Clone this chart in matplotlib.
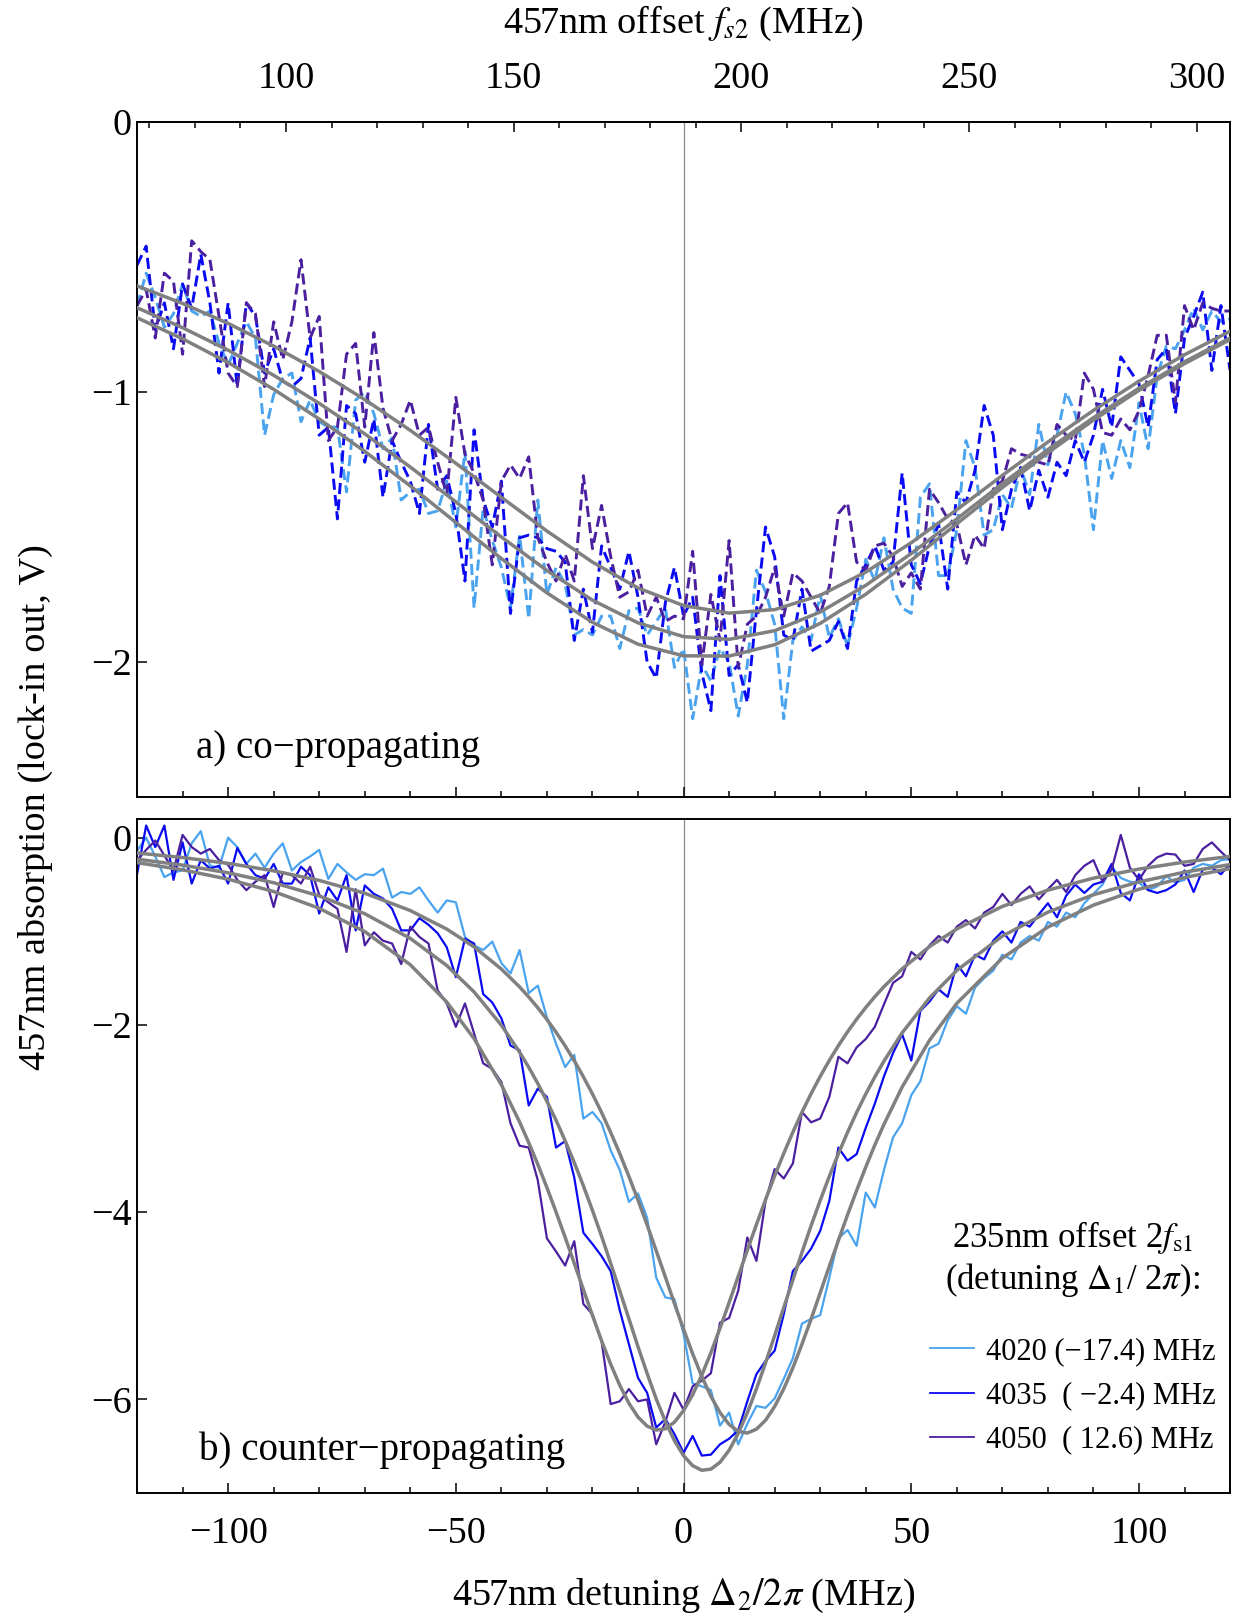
import numpy as np
import matplotlib
matplotlib.use("Agg")
import matplotlib.pyplot as plt
from matplotlib.lines import Line2D
from matplotlib.ticker import MultipleLocator

plt.rcParams['font.family'] = ['Liberation Serif', 'DejaVu Serif']
plt.rcParams['mathtext.fontset'] = 'stix'

# 457nm detuning grid of the scans (MHz)
detuning = np.arange(-120, 121, 2)
offset_fs2 = 187.3  # f_s2 = detuning + offset

# ---- a) co-propagating (lock-in out, V)
top_4020 = [-0.68, -0.56, -0.65, -0.76, -0.71, -0.60, -0.70, -0.72, -0.70, -0.82,
            -0.90, -0.82, -0.74, -0.80, -1.16, -1.01, -0.95, -0.93, -1.11, -1.03,
            -1.11, -1.13, -1.13, -1.37, -1.03, -1.00, -1.08, -1.21, -1.17, -1.40,
            -1.37, -1.36, -1.45, -1.44, -1.33, -1.50, -1.22, -1.80, -1.43, -1.55,
            -1.65, -1.80, -1.53, -1.84, -1.40, -1.75, -1.65, -1.71, -1.90, -1.88,
            -1.90, -1.83, -1.83, -1.95, -1.81, -1.80, -1.90, -1.85, -1.80, -2.02,
            -1.95, -2.21, -2.01, -2.07, -1.95, -2.00, -2.20, -2.01, -1.66, -1.74,
            -1.86, -2.21, -1.92, -1.87, -1.92, -1.75, -1.91, -1.84, -1.94, -1.80,
            -1.62, -1.70, -1.54, -1.73, -1.80, -1.82, -1.39, -1.34, -1.68, -1.68,
            -1.51, -1.18, -1.28, -1.53, -1.51, -1.38, -1.43, -1.28, -1.38, -1.12,
            -1.27, -1.16, -1.00, -1.08, -1.23, -1.51, -1.18, -1.32, -1.18, -1.28,
            -1.04, -1.21, -0.94, -0.83, -0.84, -0.77, -0.69, -0.77, -0.70, -0.74,
            -0.73]
top_4035 = [-0.53, -0.46, -0.77, -0.67, -0.84, -0.60, -0.69, -0.49, -0.67, -0.93,
            -0.67, -0.98, -0.67, -0.72, -0.93, -0.84, -0.96, -0.98, -0.95, -0.80,
            -1.16, -1.13, -1.47, -1.05, -1.08, -1.26, -1.10, -1.39, -1.18, -1.26,
            -1.33, -1.45, -1.12, -1.36, -1.31, -1.45, -1.70, -1.14, -1.40, -1.50,
            -1.33, -1.82, -1.54, -1.53, -1.54, -1.58, -1.59, -1.63, -1.92, -1.73,
            -1.89, -1.57, -1.65, -1.73, -1.59, -1.76, -2.00, -2.06, -1.78, -1.65,
            -1.83, -1.76, -2.04, -2.18, -1.68, -2.05, -2.01, -2.15, -1.81, -1.50,
            -1.61, -1.90, -1.92, -1.73, -1.96, -1.94, -1.92, -1.85, -1.95, -1.70,
            -1.64, -1.57, -1.66, -1.63, -1.30, -1.64, -1.71, -1.57, -1.49, -1.73,
            -1.37, -1.41, -1.29, -1.05, -1.16, -1.51, -1.36, -1.28, -1.44, -1.29,
            -1.39, -1.26, -1.31, -1.18, -1.26, -1.16, -0.99, -1.13, -0.87, -0.92,
            -0.97, -1.13, -0.88, -0.84, -1.08, -0.80, -0.72, -0.63, -0.92, -0.68,
            -0.92]
top_4050 = [-0.68, -0.62, -0.80, -0.56, -0.59, -0.86, -0.44, -0.48, -0.51, -0.72,
            -0.93, -0.98, -0.67, -0.71, -0.98, -0.74, -0.88, -0.74, -0.51, -0.80,
            -0.72, -1.18, -1.13, -0.86, -0.82, -1.13, -0.78, -1.06, -1.18, -1.12,
            -1.03, -1.16, -1.13, -1.26, -1.38, -1.02, -1.23, -1.30, -1.40,
            -1.64, -1.33, -1.27, -1.32, -1.24, -1.54, -1.63, -1.70, -1.60, -1.70,
            -1.31, -1.58, -1.42, -1.61, -1.76, -1.74, -1.66, -1.83, -1.76, -1.85,
            -1.83, -1.84, -1.59, -2.01, -1.75, -1.92, -1.55, -2.02, -1.86, -1.83,
            -1.76, -1.65, -1.83, -1.67, -1.70, -1.76, -1.82, -1.72, -1.45, -1.41,
            -1.63, -1.66, -1.57, -1.56, -1.61, -1.72, -1.67, -1.73, -1.36, -1.41,
            -1.47, -1.49, -1.64, -1.53, -1.58, -1.36, -1.33, -1.21, -1.23, -1.24,
            -1.26, -1.27, -1.12, -1.16, -1.18, -0.93, -0.99, -1.15, -1.16, -1.10,
            -1.14, -1.07, -0.94, -0.79, -0.79, -1.04, -0.68, -0.77, -0.67, -0.69,
            -0.70, -0.70]

fit_top_x = [-120, -110, -100, -90, -80, -70, -60, -50, -40, -30, -20, -10, 0,
             10, 20, 30, 40, 50, 60, 70, 80, 90, 100, 110, 120]
fit_top_4020 = [-0.725, -0.803, -0.891, -0.990, -1.100, -1.220, -1.348, -1.483, -1.617,
                -1.744, -1.853, -1.934, -1.977, -1.978, -1.936, -1.857, -1.749, -1.623,
                -1.488, -1.354, -1.225, -1.104, -0.994, -0.895, -0.806]
fit_top_4035 = [-0.688, -0.762, -0.845, -0.938, -1.042, -1.155, -1.278, -1.407, -1.537,
                -1.661, -1.771, -1.855, -1.906, -1.916, -1.884, -1.815, -1.716, -1.598,
                -1.470, -1.339, -1.213, -1.095, -0.986, -0.888, -0.800]
fit_top_4050 = [-0.607, -0.672, -0.746, -0.830, -0.924, -1.028, -1.142, -1.264, -1.390,
                -1.515, -1.630, -1.726, -1.791, -1.819, -1.806, -1.753, -1.667, -1.558,
                -1.436, -1.309, -1.185, -1.068, -0.960, -0.862, -0.775]

# ---- b) counter-propagating
bot_4020 = [-0.14, 0.00, -0.20, -0.42, -0.37, -0.35, -0.06, 0.07, -0.30, -0.32,
            0.00, -0.10, -0.28, -0.17, -0.32, -0.17, -0.06, -0.35, -0.26, -0.20,
            -0.13, -0.44, -0.28, -0.37, -0.45, -0.39, -0.40, -0.33, -0.64, -0.58,
            -0.60, -0.53,
            -0.67, -0.80, -0.67, -0.69, -1.06, -1.15, -1.20, -1.11, -1.34, -1.45,
            -1.20, -1.66, -1.58, -1.92,
            -2.20, -2.45, -2.32, -3.00, -2.93, -3.05, -3.34, -3.55, -3.89, -3.80,
            -4.06, -4.70, -4.91, -4.93, -5.30, -5.83, -5.86, -5.90, -6.28, -6.14,
            -6.48, -6.26, -6.07, -6.09, -5.99, -5.78, -5.56, -5.19, -5.14, -5.10,
            -4.70, -4.28, -4.19, -4.36, -3.79,
            -3.95, -3.55, -3.20, -3.05, -2.75, -2.60, -2.25, -2.20, -1.95, -1.80,
            -1.88, -1.60, -1.50, -1.42, -1.25, -1.30, -1.12, -1.05, -1.10, -0.90,
            -0.95, -0.80, -0.85, -0.70, -0.60, -0.50, -0.31, -0.43, -0.47, -0.48,
            -0.56, -0.52, -0.41, -0.48, -0.45, -0.32, -0.28, -0.30, -0.24, -0.23]
bot_4035 = [-0.39, 0.13, -0.10, 0.13, -0.45, -0.05, -0.49, -0.24, -0.33, -0.30,
            -0.49, -0.11, -0.28, -0.40, -0.44, -0.28, -0.49, -0.49, -0.31, -0.40,
            -0.81, -0.53, -0.67, -0.40, -0.99, -0.51, -0.60, -0.65, -0.76, -0.99,
            -0.99, -0.86, -0.93, -1.02, -1.17, -1.49, -1.08, -1.13, -1.67, -1.76,
            -1.93, -2.22, -2.27, -2.86, -2.68, -2.77, -3.31, -3.24, -3.63, -4.22,
            -4.34, -4.47, -4.63, -5.05, -5.41, -5.77, -5.93, -6.30, -6.21, -6.37,
            -6.57, -6.39, -6.60, -6.59, -6.48, -6.42, -6.33, -6.02, -5.73, -5.59,
            -5.48, -5.09, -4.63, -4.52, -4.39, -4.20, -3.88, -3.31, -3.45, -3.38,
            -3.10, -2.84,
            -2.55, -2.30, -2.10, -2.38, -1.85, -1.75, -1.62, -1.70, -1.35, -1.48,
            -1.25, -1.30, -1.10, -1.00, -1.12, -0.90, -0.95, -0.82, -0.70, -0.85,
            -0.62,
            -0.50, -0.59, -0.50, -0.47, -0.28, -0.59, -0.67, -0.39, -0.56, -0.59,
            -0.56, -0.50, -0.35, -0.58, -0.34, -0.32, -0.39, -0.28]
bot_4050 = [-0.24, -0.13, -0.03, -0.19, -0.35, 0.03, -0.10, -0.17, -0.12, -0.24,
            -0.29, -0.45, -0.56, -0.47, -0.40, -0.74, -0.37, -0.40, -0.49, -0.31,
            -0.61, -0.69, -0.76, -1.22, -0.55, -1.15, -1.01, -1.10, -1.13, -1.35,
            -0.95, -1.06, -1.13, -1.63, -1.77, -2.02, -1.77, -2.09, -2.41, -2.47,
            -2.61, -3.05, -3.29, -3.31, -3.66, -4.28, -4.42, -4.57, -4.31, -4.98,
            -5.09, -5.38, -6.05, -6.02, -5.89, -6.02, -6.00, -6.48, -6.24, -5.93,
            -6.11, -5.86, -5.80, -5.72, -5.18, -5.13, -4.84, -4.27, -4.52, -3.88,
            -3.54, -3.64, -3.48, -2.93, -3.04, -3.00, -2.77, -2.34, -2.41, -2.24,
            -2.15, -2.02,
            -1.78, -1.55, -1.48, -1.22, -1.30, -1.15, -1.05, -1.12, -0.95, -0.88,
            -0.97, -0.80, -0.74, -0.60, -0.72, -0.60, -0.52, -0.66, -0.55, -0.45,
            -0.58, -0.40,
            -0.30, -0.24, -0.47, -0.34, 0.03, -0.32, -0.45, -0.30, -0.21, -0.17,
            -0.18, -0.30, -0.28, -0.12, -0.05, -0.15, -0.24]

fit_bot_x = [-120, -110, -100, -90, -80, -70, -60, -52, -46, -40,
             -36, -34, -32, -30, -28, -26, -24, -22, -20, -18,
             -16, -14, -12, -10, -8, -6, -4, -2, 0, 2,
             4, 6, 8, 10, 12, 14, 16, 18, 20, 22,
             24, 26, 28, 30, 32, 34, 36, 38, 40, 42,
             44, 48, 54, 60, 70, 80, 90, 100, 110, 120]
fit_bot_4020 = [-0.163, -0.212, -0.274, -0.354, -0.456, -0.593, -0.778, -0.976, -1.166, -1.403,
                -1.594, -1.701, -1.817, -1.942, -2.077, -2.224, -2.382, -2.554, -2.738, -2.935,
                -3.149, -3.375, -3.618, -3.871, -4.136, -4.413, -4.692, -4.976, -5.250, -5.513,
                -5.755, -5.967, -6.141, -6.267, -6.342, -6.359, -6.318, -6.223, -6.076, -5.887,
                -5.663, -5.409, -5.143, -4.862, -4.579, -4.302, -4.029, -3.769, -3.519, -3.282,
                -3.062, -2.663, -2.164, -1.769, -1.286, -0.954, -0.720, -0.550, -0.425, -0.329]
fit_bot_4035 = [-0.229, -0.293, -0.375, -0.481, -0.622, -0.812, -1.076, -1.365, -1.647, -2.003,
                -2.291, -2.452, -2.626, -2.816, -3.018, -3.237, -3.470, -3.718, -3.982, -4.257,
                -4.547, -4.841, -5.138, -5.438, -5.723, -5.995, -6.235, -6.441, -6.601, -6.708,
                -6.757, -6.745, -6.672, -6.543, -6.363, -6.142, -5.888, -5.610, -5.320, -5.019,
                -4.724, -4.429, -4.145, -3.875, -3.617, -3.376, -3.147, -2.935, -2.738, -2.555,
                -2.386, -2.084, -1.712, -1.417, -1.051, -0.795, -0.609, -0.472, -0.368, -0.287]
fit_bot_4050 = [-0.266, -0.343, -0.443, -0.575, -0.754, -1.003, -1.357, -1.755, -2.146, -2.640,
                -3.037, -3.257, -3.490, -3.738, -3.998, -4.268, -4.546, -4.826, -5.104, -5.373,
                -5.624, -5.850, -6.041, -6.189, -6.285, -6.328, -6.314, -6.243, -6.119, -5.950,
                -5.741, -5.501, -5.240, -4.966, -4.686, -4.406, -4.132, -3.866, -3.613, -3.372,
                -3.145, -2.932, -2.734, -2.550, -2.379, -2.221, -2.074, -1.939, -1.814, -1.698,
                -1.591, -1.400, -1.163, -0.974, -0.734, -0.560, -0.432, -0.335, -0.260, -0.200]

labels = ["4020 (\u221217.4) MHz", "4035  ( \u22122.4) MHz", "4050  ( 12.6) MHz"]
colors = ["#4aa3ee", "#0a0af2", "#4a1fa0"]
fit_color = "#808080"

fig = plt.figure(figsize=(12.38, 16.16), dpi=100)
ax1 = fig.add_axes([0.1107, 0.5068, 0.8829, 0.4177])
ax2 = fig.add_axes([0.1107, 0.0761, 0.8829, 0.4171])

# top panel
for y, c in zip([top_4020, top_4035, top_4050], colors):
    ax1.plot(detuning, y, color=c, lw=2.1, dashes=(3.8, 1.8), zorder=2)
for y in [fit_top_4020, fit_top_4035, fit_top_4050]:
    ax1.plot(fit_top_x, y, color=fit_color, lw=2.5, zorder=3)

# bottom panel
for y, c in zip([bot_4020, bot_4035, bot_4050], colors):
    ax2.plot(detuning, y, color=c, lw=1.6, zorder=2)
for y in [fit_bot_4020, fit_bot_4035, fit_bot_4050]:
    ax2.plot(fit_bot_x, y, color=fit_color, lw=2.5, zorder=3)

for ax in (ax1, ax2):
    ax.axvline(0, color="#888888", lw=0.9, zorder=1)
    ax.set_xlim(-120, 120)
    ax.xaxis.set_major_locator(MultipleLocator(50))
    ax.xaxis.set_minor_locator(MultipleLocator(10))
    ax.tick_params(axis='both', which='both', direction='in', top=False, right=False,
                   labelsize=27.5, width=1.1)
    ax.tick_params(axis='both', which='major', length=7)
    ax.tick_params(axis='both', which='minor', length=4)
    ax.tick_params(axis='y', pad=4)
    ax.tick_params(axis='x', pad=17)
    for s in ax.spines.values():
        s.set_linewidth(1.4)

ax1.set_ylim(-2.5, 0)
ax1.set_yticks([0, -1, -2])
ax1.tick_params(axis='x', labelbottom=False)
ax2.set_ylim(-7, 0.2)
ax2.set_yticks([0, -2, -4, -6])

sec = ax1.secondary_xaxis('top', functions=(lambda d: d + offset_fs2, lambda f: f - offset_fs2))
sec.set_xticks([100, 150, 200, 250, 300])
sec.xaxis.set_minor_locator(MultipleLocator(10))
sec.tick_params(axis='x', which='both', direction='in', labelsize=27.5, width=1.1, pad=19)
sec.tick_params(axis='x', which='major', length=7)
sec.tick_params(axis='x', which='minor', length=4)
sec.spines['top'].set_linewidth(1.4)

ax1.text(0.054, 0.058, "a) co\u2212propagating", transform=ax1.transAxes,
         fontsize=28, va='baseline', ha='left')
ax2.text(0.0567, 0.0496, "b) counter\u2212propagating", transform=ax2.transAxes,
         fontsize=28, va='baseline', ha='left')

fig.text(0.552, 0.9858, r"457nm offset $f_{s2}$ (MHz)", fontsize=27.5, ha='center', va='center')
fig.text(0.552, 0.0124, r"457nm detuning $\Delta_2/2\pi$ (MHz)", fontsize=27.5, ha='center', va='center')
fig.text(0.029, 0.5006, "457nm absorption (lock-in out, V)", fontsize=27.5,
         rotation=90, ha='center', va='center')

handles = [Line2D([], [], color=c, lw=1.3) for c in colors]
leg = ax2.legend(handles, labels, loc='center', bbox_to_anchor=(0.856, 0.232),
                 frameon=False, fontsize=22, handlelength=1.45, handletextpad=0.4,
                 labelspacing=0.5,
                 title="235nm offset 2$f_{\\mathrm{s1}}$\n(detuning $\\Delta_1$/ 2$\\pi$):",
                 title_fontsize=25)
leg.get_title().set_multialignment('center')
leg._legend_box.sep = 27

fig.savefig("out.png", dpi=100)
